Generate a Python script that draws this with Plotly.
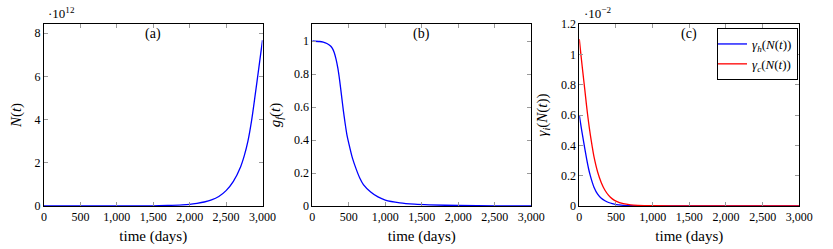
import plotly.graph_objects as go

# ---- data ----
# (a) N(t), in units of 1e12
t_a = [0, 500, 1000, 1500, 1700, 1900, 2000, 2100, 2200, 2300, 2400, 2500,
       2600, 2700, 2750, 2800, 2850, 2900, 2950, 3000]
N_a = [0.0, 0.0, 0.001, 0.01, 0.025, 0.052, 0.078, 0.125, 0.185, 0.28, 0.44, 0.71,
       1.14, 1.82, 2.33, 3.0, 3.95, 5.15, 6.4, 7.67]

# (b) g_f(t)
t_b = [0, 100, 150, 200, 250, 275, 300, 325, 350, 375, 400, 425, 450, 475, 500,
       550, 600, 650, 700, 800, 900, 1000, 1200, 1400, 1600, 2000, 2500, 3000]
g_b = [1.0, 0.997, 0.993, 0.985, 0.97, 0.955, 0.93, 0.89, 0.835, 0.76, 0.67,
       0.58, 0.50, 0.43, 0.38, 0.29, 0.225, 0.17, 0.13, 0.085, 0.055, 0.036,
       0.019, 0.011, 0.007, 0.003, 0.001, 0.0]

# (c) gamma_h, gamma_c, in units of 1e-2
t_c = [0, 25, 50, 75, 100, 125, 150, 175, 200, 250, 300, 350, 400, 450, 500,
       600, 700, 800, 1000, 1500, 2000, 3000]
gam_h = [0.60, 0.522, 0.449, 0.379, 0.310, 0.249, 0.200, 0.159, 0.124, 0.078,
         0.051, 0.035, 0.023, 0.015, 0.0093, 0.0045, 0.0022, 0.0012, 0.0004,
         0.0001, 0.00003, 0.0]
gam_c = [1.10, 0.985, 0.874, 0.767, 0.657, 0.557, 0.471, 0.395, 0.325, 0.224,
         0.154, 0.104, 0.070, 0.047, 0.032, 0.015, 0.0074, 0.004, 0.0015,
         0.0003, 0.0001, 0.0]

x_ticks = [0, 500, 1000, 1500, 2000, 2500, 3000]
ticks_a = [0, 2, 4, 6, 8]
ticks_b = [0, 0.2, 0.4, 0.6, 0.8, 1]
ticks_c = [0, 0.2, 0.4, 0.6, 0.8, 1, 1.2]

W, H = 833, 249
FONT = "'Liberation Serif', 'DejaVu Serif', serif"


def px(x):
    return x / W


def py(y):
    return 1 - y / H


LW = 1.3
fig = go.Figure()
fig.add_trace(go.Scatter(x=t_a, y=N_a, mode="lines", line=dict(color="#0000ff", width=LW, shape="spline", smoothing=0.8),
                         xaxis="x", yaxis="y", showlegend=False))
fig.add_trace(go.Scatter(x=t_b, y=g_b, mode="lines", line=dict(color="#0000ff", width=LW, shape="spline", smoothing=0.8),
                         xaxis="x2", yaxis="y2", showlegend=False))
fig.add_trace(go.Scatter(x=t_c, y=gam_h, mode="lines", line=dict(color="#0000ff", width=LW, shape="spline", smoothing=0.8),
                         xaxis="x3", yaxis="y3", name="<i>γ<sub>h</sub></i>(<i>N</i>(<i>t</i>))"))
fig.add_trace(go.Scatter(x=t_c, y=gam_c, mode="lines", line=dict(color="#ff0000", width=LW, shape="spline", smoothing=0.8),
                         xaxis="x3", yaxis="y3", name="<i>γ<sub>c</sub></i>(<i>N</i>(<i>t</i>))"))

ydom = [py(206), py(24)]
xdoms = [[px(44), px(262.5)], [px(312.3), px(531.3)], [px(579.3), px(799.3)]]

common = dict(showline=True, linecolor="black", linewidth=1, mirror="ticks", ticks="inside",
              ticklen=4, tickcolor="#9a9a9a", tickwidth=1, showgrid=False, zeroline=False,
              automargin=False,
              tickfont=dict(family=FONT, size=12, color="black"))

titles_y = ["<i>N</i>(<i>t</i>)", "<i>g<sub>f</sub></i>(<i>t</i>)", "<i>γ<sub>i</sub></i>(<i>N</i>(<i>t</i>))"]
yr = [[0, 8.42], [0, 1.103], [0, 1.2]]
yt = [ticks_a, ticks_b, ticks_c]
layout = {}
for i in range(3):
    sx = "" if i == 0 else str(i + 1)
    layout["xaxis" + sx] = dict(common, domain=xdoms[i], range=[0, 3000], tickvals=x_ticks,
                                tickformat=",d", anchor="y" + sx,
                                title=dict(text="time (days)", font=dict(family=FONT, size=15, color="black"), standoff=7))
    layout["yaxis" + sx] = dict(common, domain=ydom, range=yr[i], tickvals=yt[i], anchor="x" + sx,
                                title=dict(text=titles_y[i], font=dict(family=FONT, size=15, color="black"), standoff=9))

fig.update_layout(**layout)

annots = []
for i, lab in enumerate(["(a)", "(b)", "(c)"]):
    cx = (xdoms[i][0] + xdoms[i][1]) / 2
    annots.append(dict(x=cx, y=py(34), xref="paper", yref="paper", text=lab, showarrow=False,
                       font=dict(family=FONT, size=14, color="black"), xanchor="center", yanchor="middle"))
annots.append(dict(x=px(46), y=py(13), xref="paper", yref="paper", text="·10<sup>12</sup>", showarrow=False,
                   font=dict(family=FONT, size=13, color="black"), xanchor="left", yanchor="middle"))
annots.append(dict(x=px(582), y=py(13), xref="paper", yref="paper", text="·10<sup>−2</sup>", showarrow=False,
                   font=dict(family=FONT, size=13, color="black"), xanchor="left", yanchor="middle"))

fig.update_layout(
    width=W, height=H, margin=dict(l=0, r=0, t=0, b=0, autoexpand=False),
    paper_bgcolor="white", plot_bgcolor="white",
    annotations=annots,
    legend=dict(x=px(798), y=py(28), xanchor="right", yanchor="top", bgcolor="white",
                bordercolor="black", borderwidth=1, font=dict(family=FONT, size=13, color="black"),
                itemwidth=30, tracegroupgap=0, indentation=-6),
    font=dict(family=FONT),
)

fig.write_html("out.html", config={"displayModeBar": False},
               post_script="document.body.style.margin='0';document.body.style.overflow='hidden';")
